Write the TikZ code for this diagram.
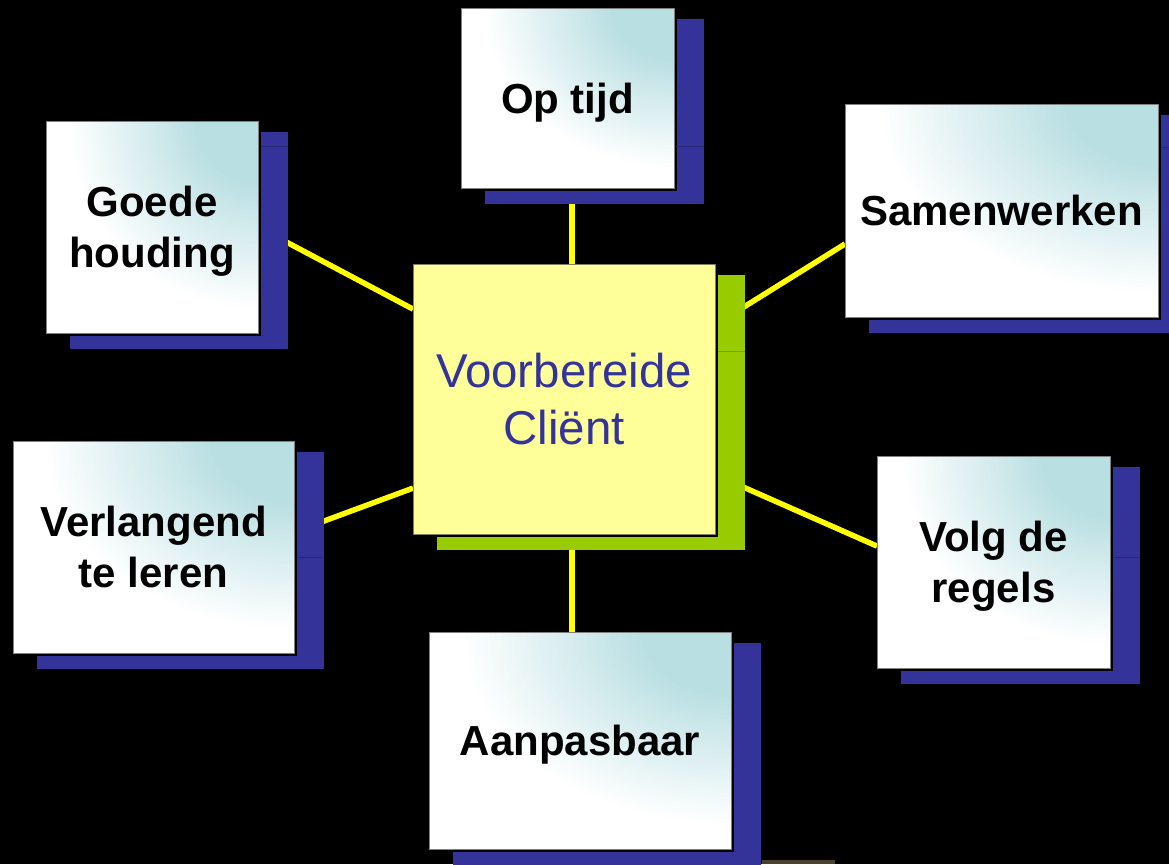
\documentclass[tikz,border=0pt]{standalone}
\usepackage{fontspec}
\setmainfont{Liberation Sans}
\usetikzlibrary{calc}
\definecolor{boxteal}{RGB}{186,223,226}
\definecolor{shadowblue}{RGB}{51,51,153}
\definecolor{shadowgreen}{RGB}{153,204,0}
\definecolor{hubyellow}{RGB}{255,255,153}
\definecolor{hubtext}{RGB}{51,51,153}
\definecolor{linkyellow}{RGB}{255,255,0}
\definecolor{cardborder}{RGB}{128,128,128}
\definecolor{hubborder}{RGB}{128,128,96}
\definecolor{artifact}{RGB}{74,64,46}
\pgfdeclarelayer{bg}
\pgfdeclarelayer{links}
\pgfdeclarelayer{shadows}
\pgfdeclarelayer{fills}
\pgfsetlayers{bg,links,shadows,fills,main}
\tikzset{
  card/.style={draw=cardborder, line width=0.75pt, inner sep=0pt, outer sep=0pt,
    align=center, text=black, text depth=0pt, font=\fontsize{31.5}{38}\selectfont\bfseries},
  hub/.style={draw=hubborder, line width=0.75pt, fill=hubyellow, inner sep=0pt, outer sep=0pt,
    align=center, text=hubtext, font=\fontsize{35.6}{42.75}\selectfont},
  link/.style={draw=linkyellow, line width=4.1pt},
  seam/.style={line width=0.75pt}
}
\newcommand\cardshadow[2]{%
  \fill[#2] ([shift={(24,11)}]#1.north west) rectangle ([shift={(30,16)}]#1.south east);
  \fill[black] ([shift={(2,2)}]#1.north west) rectangle ([shift={(3,3)}]#1.south east);
}
% corner gradient: teal at top-right corner fading to white
\newcommand\cardfill[3]{%
  \begin{scope}
    \clip (#1.south west) rectangle (#1.north east);
    \fill[white] (#1.south west) rectangle (#1.north east);
    \foreach \kk in {0,...,30} {
      \pgfmathsetmacro\rr{0.9-0.02*\kk}
      \pgfmathsetmacro\pp{min(100,100*(0.9-\rr)/0.6)}
      \fill[boxteal!\pp!white] (#1.north east) ellipse [x radius=\rr*#2, y radius=\rr*#3];
    }
  \end{scope}}
\begin{document}
\begin{tikzpicture}[x=0.75pt,y=-0.75pt]
\useasboundingbox (0,0) rectangle (1169,864);
\begin{pgfonlayer}{bg}
  \fill[black] (0,0) rectangle (1169,864);
  \fill[artifact] (762,860) rectangle (835,864);
\end{pgfonlayer}

\node[hub, minimum width=226.5pt, minimum height=202.5pt] (hub) at (564,399) {Voorbereide\\Cliënt};
\node[card, minimum width=159.75pt, minimum height=135pt] (optijd) at (567.5,98) {Op tijd};
\node[card, minimum width=159pt, minimum height=159pt] (goede) at (152,227) {Goede\\houding};
\node[card, minimum width=234.75pt, minimum height=159.75pt] (samen) at (1001.5,210.5) {Samenwerken};
\node[card, minimum width=210.75pt, minimum height=159pt] (verl) at (153.5,547) {Verlangend\\te leren};
\node[card, minimum width=174.75pt, minimum height=159pt] (volg) at (993.5,562) {Volg de\\regels};
\node[card, minimum width=226.5pt, minimum height=162.75pt] (aan) at (580,740.5) {Aanpasbaar};

\begin{pgfonlayer}{fills}
  \cardfill{optijd}{159.75pt}{135pt}
  \cardfill{goede}{159pt}{159pt}
  \cardfill{samen}{234.75pt}{159.75pt}
  \cardfill{verl}{210.75pt}{159pt}
  \cardfill{volg}{174.75pt}{159pt}
  \cardfill{aan}{226.5pt}{162.75pt}
\end{pgfonlayer}

\begin{pgfonlayer}{shadows}
  \cardshadow{hub}{shadowgreen}
  \cardshadow{optijd}{shadowblue}
  \cardshadow{goede}{shadowblue}
  \cardshadow{samen}{shadowblue}
  \cardshadow{verl}{shadowblue}
  \cardshadow{volg}{shadowblue}
  \cardshadow{aan}{shadowblue}
  \draw[seam, shadowblue!75!black] (676,146) -- (704,146);
  \draw[seam, shadowblue!75!black] (261,146) -- (288,146);
  \draw[seam, shadowblue!75!black] (1161,147) -- (1169,147);
  \draw[seam, shadowgreen!80!black] (718,351) -- (745,351);
  \draw[seam, shadowblue!75!black] (297,557) -- (323,557);
  \draw[seam, shadowblue!75!black] (1113,557) -- (1140,557);
\end{pgfonlayer}

\begin{pgfonlayer}{links}
  \draw[link] (goede.east) -- ($(hub.north west)!0.167!(hub.south west)$);
  \draw[link] ([shift={(4.5,0)}]optijd.south) -- ([shift={(8,0)}]hub.north);
  \draw[link] ($(hub.north east)!0.226!(hub.south east)$) -- ($(samen.north west)!0.657!(samen.south west)$);
  \draw[link] ($(verl.north east)!0.43!(verl.south east)$) -- ($(hub.north west)!0.83!(hub.south west)$);
  \draw[link] ($(hub.north east)!0.78!(hub.south east)$) -- ($(volg.north west)!0.425!(volg.south west)$);
  \draw[link] ([shift={(8,0)}]hub.south) -- ([shift={(-8,0)}]aan.north);
\end{pgfonlayer}
\end{tikzpicture}
\end{document}
